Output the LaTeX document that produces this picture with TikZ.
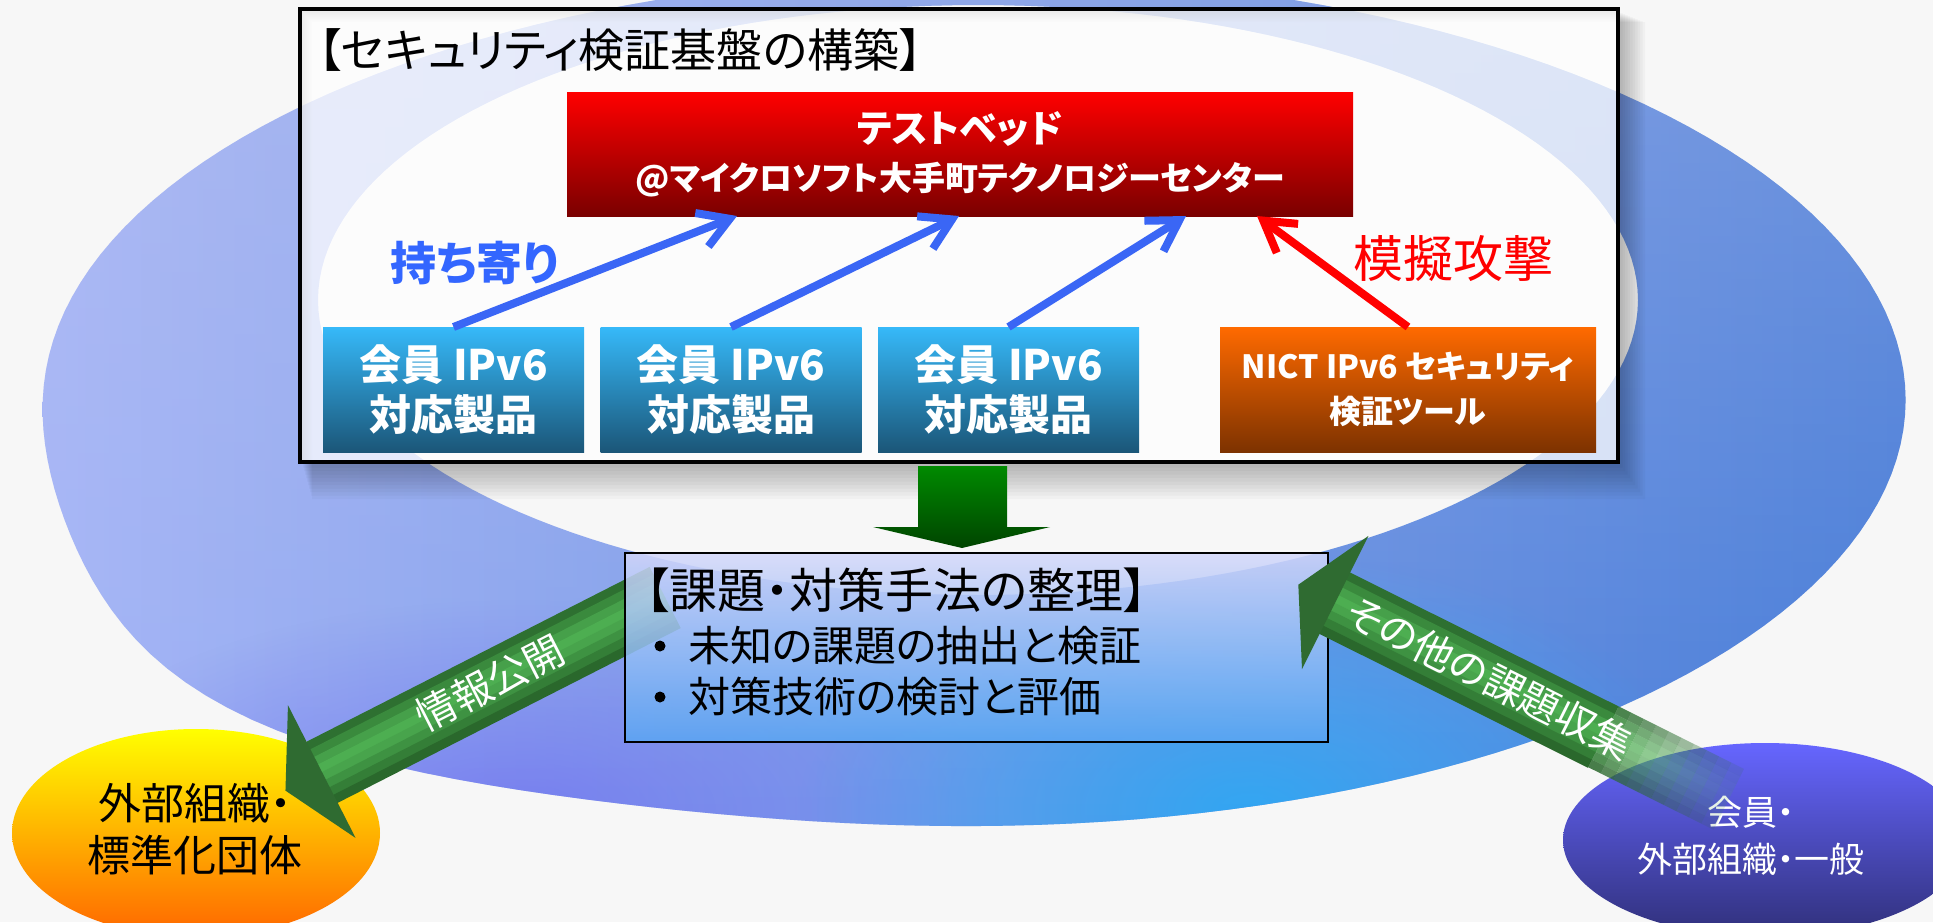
\documentclass[tikz,border=0pt]{standalone}
\usepackage{fontspec}
\setmainfont{Noto Sans CJK JP}[RawFeature=+palt]
\usetikzlibrary{arrows.meta,shapes.geometric,fadings}

\definecolor{bgc}{HTML}{F7F7F7}
\definecolor{ringL}{HTML}{A6B6F8}
\definecolor{ringR}{HTML}{3F78D6}
\definecolor{ringTop}{HTML}{BFC3EC}
\definecolor{ringCyan}{HTML}{28A8F5}
\definecolor{ringPurple}{HTML}{6E70F0}
\definecolor{arrowblue}{HTML}{3A66F5}
\definecolor{txtblue}{HTML}{3366FF}
\definecolor{redtop}{HTML}{FF0000}
\definecolor{redbot}{HTML}{7A0000}
\definecolor{bluetop}{HTML}{36B9F9}
\definecolor{bluebot}{HTML}{1B5678}
\definecolor{orgtop}{HTML}{FF6A00}
\definecolor{orgbot}{HTML}{7D3200}
\definecolor{gtop}{HTML}{008A00}
\definecolor{gbot}{HTML}{004400}
\definecolor{tasktop}{HTML}{D3D7FA}
\definecolor{taskbot}{HTML}{5AA5F2}
\definecolor{ylw}{HTML}{FFFF00}
\definecolor{orng}{HTML}{FF6600}
\definecolor{pptop}{HTML}{6666FF}
\definecolor{ppbot}{HTML}{30307A}
\definecolor{gs1}{HTML}{2E7031}
\definecolor{gs2}{HTML}{3A8A3D}
\definecolor{gs3}{HTML}{46A04A}
\definecolor{gs4}{HTML}{4DAE51}
\definecolor{gs5}{HTML}{48A44C}
\definecolor{gs6}{HTML}{3E9242}
\definecolor{gs7}{HTML}{347E37}
\definecolor{gs8}{HTML}{2A682C}
\definecolor{ghead}{HTML}{2F6B31}

\tikzfading[name=fadetop, top color=transparent!0, middle color=transparent!100, bottom color=transparent!100]
\tikzfading[name=radfade, inner color=transparent!0, outer color=transparent!100]

\def\ringfac{(0.99+0.08*exp(0-(((\x-137)/22)^2)))}
\def\ringpath{plot[domain=0:360, samples=181] ({975+940*cos(\x)*\ringfac}, {400+430*sin(\x)*\ringfac}) -- cycle
 plot[domain=0:360, samples=181] ({978+660*cos(\x)}, {300+295*sin(\x)}) -- cycle}

\begin{document}
\begin{tikzpicture}[x=0.5pt,y=-0.5pt,
  every node/.style={inner sep=0pt,outer sep=0pt},
  gradbox/.style={rectangle,text=white,align=center},
  barrow/.style={draw=arrowblue,line width=4pt,-{Straight Barb[length=15pt,width=18pt]}},
  rarrow/.style={draw=red,line width=4pt,-{Straight Barb[length=15pt,width=18pt]}},
  jfont/.style={font={\fontsize{#1pt}{#1pt}\selectfont}},
  jbold/.style={font={\fontsize{#1pt}{#1pt}\selectfont\bfseries}},
  bulletdot/.style={circle, fill=black, minimum size=5.5pt}
]
\useasboundingbox (0,0) rectangle (1933,922);
\fill[bgc] (0,0) rectangle (1933,922);

% ---- ring ----
\begin{scope}[even odd rule]
  \clip \ringpath;
  \shade[left color=ringL, right color=ringR] (0,-40) rectangle (1933,880);
  \fill[ringPurple, path fading=radfade, fill opacity=0.75] (520,810) ellipse [x radius=480, y radius=210];
  \fill[ringCyan, path fading=radfade, fill opacity=0.9] (1250,810) ellipse [x radius=450, y radius=260];
  \fill[ringTop, path fading=fadetop, fill opacity=0.4] (0,-40) rectangle (1933,880);
\end{scope}

% ---- panel ----
\foreach \i in {1,...,10}
  \fill[black, opacity=0.028, even odd rule] (302+\i,12+\i) rectangle (1620+2.5*\i,464+3.5*\i) (300,9) rectangle (1618,462);
\node[draw=black, line width=2pt, fill=white, fill opacity=0.75, minimum width=659pt, minimum height=226.5pt] (panel) at (959,235.5) {};

\node[jfont=23, anchor=west] (title) at (318,50) {【セキュリティ検証基盤の構築】};

\node[gradbox, top color=redtop, bottom color=redbot, minimum width=393pt, minimum height=62pt,
  font={\fontsize{16.5pt}{24pt}\selectfont\bfseries}] (tb) at (960,154)
  {{\fontsize{19pt}{24pt}\selectfont\bfseries テストベッド}\\@マイクロソフト大手町テクノロジーセンター};

\tikzset{memb/.style={gradbox, top color=bluetop, bottom color=bluebot, minimum width=130.5pt, minimum height=62.5pt,
  font={\fontsize{21pt}{25pt}\selectfont\bfseries}}}
\node[memb] (b1) at (453.5,389.5) {会員 IPv6\\対応製品};
\node[memb] (b2) at (731,389.5) {会員 IPv6\\対応製品};
\node[memb] (b3) at (1008.5,389.5) {会員 IPv6\\対応製品};
\node[gradbox, top color=orgtop, bottom color=orgbot, minimum width=188pt, minimum height=62.5pt,
  font={\fontsize{16pt}{22.5pt}\selectfont\bfseries}] (nict) at (1408,389.5) {NICT IPv6 セキュリティ\\検証ツール};

\coordinate (t1) at (737,216);
\coordinate (t2) at (959,216);
\coordinate (t3) at (1186,216);
\coordinate (t4) at (1257,216);
\draw[barrow] (b1.north) -- (t1);
\draw[barrow] (b2.north) -- (t2);
\draw[barrow] (b3.north) -- (t3);
\draw[rarrow] (nict.north) -- (t4);

\node[jbold=23, text=txtblue] (bring) at (475,263) {持ち寄り};
\node[jfont=25, text=red] (attack) at (1453,259) {模擬攻撃};

% ---- down arrow ----
\shade[top color=gtop, bottom color=gbot] (918,466) -- (1007,466) -- (1007,527) -- (1050,527) -- (962,548) -- (873,527) -- (918,527) -- cycle;

% ---- yellow ellipse ----
\node[ellipse, top color=ylw, bottom color=orng, middle color=ylw!50!orng, minimum width=184pt, minimum height=104pt] (ext) at (196,833) {};
\node[align=center, font={\fontsize{21.5pt}{26pt}\selectfont}] (extt) at (195,829) {外部組織・\\標準化団体};

% ---- left green arrow ----
\begin{scope}[shift={(322,772)}, rotate=27]
  \foreach \a/\b/\c in {-34/-25.5/gs1,-25.5/-17/gs2,-17/-8.5/gs3,-8.5/0/gs4,0/8.5/gs5,8.5/17/gs6,17/25.5/gs7,25.5/34/gs8}
    \fill[\c] (-1,\a) rectangle (385,\b+0.6);
  \fill[ghead] (0,-75) -- (-41,0) -- (0,74) -- cycle;
  \node[transform shape, jfont=20, text=white] (pub) at (190,-3) {情報公開};
\end{scope}

% ---- task box ----
\node[draw=black, line width=1.2pt, top color=tasktop, bottom color=taskbot, fill opacity=0.85, draw opacity=1,
  minimum width=351.5pt, minimum height=94.5pt] (task) at (976.5,647.5) {};
\node[jfont=24, anchor=west] (tasktitle) at (645,590) {【課題・対策手法の整理】};
\node[bulletdot] (bul1) at (660,646) {};
\node[jfont=21, anchor=west] (item1) at (688,646) {未知の課題の抽出と検証};
\node[bulletdot] (bul2) at (660,697) {};
\node[jfont=21, anchor=west] (item2) at (688,697) {対策技術の検討と評価};

% ---- purple ellipse ----
\node[ellipse, top color=pptop, bottom color=ppbot, minimum width=202pt, minimum height=97pt] (mem) at (1765,840) {};
\node[align=center, text=white, font={\fontsize{17.5pt}{23.5pt}\selectfont}] (memt) at (1751,836) {会員・\\外部組織・一般};

% ---- right green arrow ----
\begin{scope}[shift={(1335,603)}, rotate=-26.5]
  \foreach \a/\b/\c in {-34/-25.5/gs1,-25.5/-17/gs2,-17/-8.5/gs3,-8.5/0/gs4,0/8.5/gs5,8.5/17/gs6,17/25.5/gs7,25.5/34/gs8}
    \fill[\c] (-1,\a) rectangle (300,\b+0.6);
  \foreach \k in {0,...,9}{
    \pgfmathsetmacro{\op}{0.85-0.08*\k}
    \foreach \a/\b/\c in {-34/-25.5/gs1,-25.5/-17/gs2,-17/-8.5/gs3,-8.5/0/gs4,0/8.5/gs5,8.5/17/gs6,17/25.5/gs7,25.5/34/gs8}
      \fill[\c, opacity=\op] (300+14*\k,\a) rectangle (314+14*\k,\b);
  }
  \fill[ghead] (0,-75) -- (-41,0) -- (0,74) -- cycle;
  \node[transform shape, jfont=20, text=white] (coll) at (172,-2) {その他の課題収集};
\end{scope}
\end{tikzpicture}
\end{document}
